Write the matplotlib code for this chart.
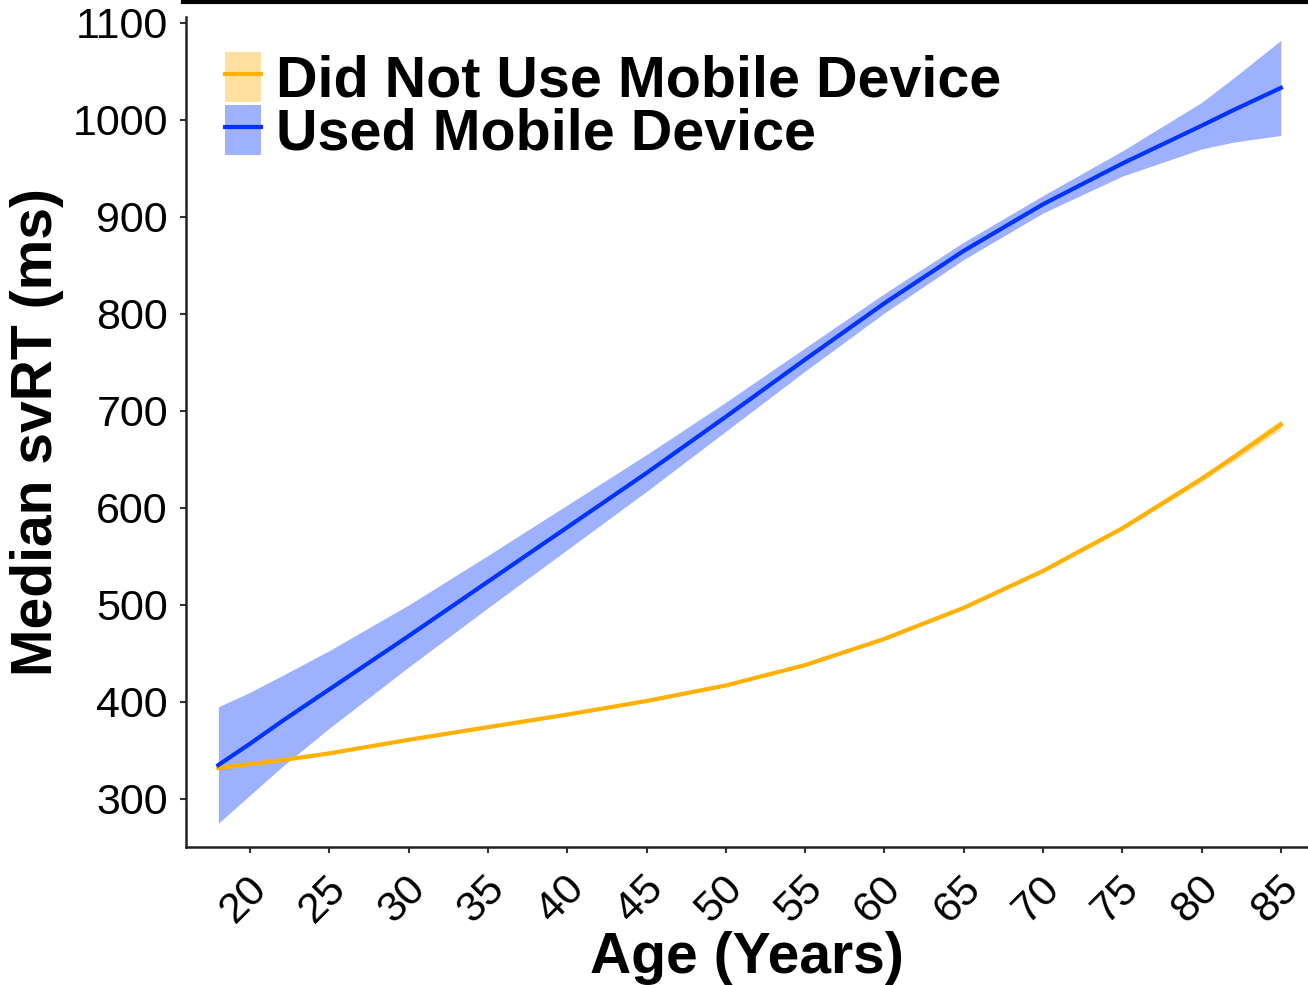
import matplotlib
matplotlib.use('Agg')
import numpy as np
import matplotlib.pyplot as plt
import matplotlib.transforms as mtransforms
from matplotlib.patches import Patch
from matplotlib.lines import Line2D

plt.rcParams['font.family'] = ['Liberation Sans', 'DejaVu Sans']

# values
ages = [18, 20, 22, 25, 30, 35, 40, 45, 50, 55, 60, 65, 70, 75, 80, 82, 85]
used_rt = [335, 357, 380, 413, 468, 524, 580, 636, 694, 753, 811, 865, 913, 955, 994, 1010, 1033]
used_se = [60, 53, 47, 40, 32, 27, 23, 19, 15, 12, 10, 9, 9, 13, 24, 33, 49]
notused_rt = [332, 336, 340, 347, 361, 374, 387, 401, 417, 438, 465, 497, 535, 579, 630, 652, 686]
notused_se = [2, 1.5, 1, 1, 1, 1, 1, 1, 1, 1, 1, 1, 1.5, 2, 3, 4, 5]

labels = ['Did Not Use Mobile Device', 'Used Mobile Device']
line_colors = ['#FFB000', '#0033FF']
x_ticks = list(range(20, 90, 5))
y_ticks = list(range(300, 1200, 100))

fig = plt.figure(figsize=(13.08, 9.85), dpi=100)
ax = fig.add_axes([0.1422, 0.1401, 0.8578, 0.8426])

ages_arr = np.array(ages)
series = [(notused_rt, notused_se), (used_rt, used_se)]
for (rt, se), col in zip(series, line_colors):
    rt = np.array(rt)
    se = np.array(se)
    ax.fill_between(ages_arr, rt - se, rt + se, color=col, alpha=0.38, lw=0)
    ax.plot(ages_arr, rt, color=col, lw=3)

ax.set_xlim(15.96, 86.71)
ax.set_ylim(250.5, 1106)
ax.set_xticks(x_ticks)
ax.set_yticks(y_ticks)
ax.tick_params(axis='both', labelsize=31, length=4.5, width=1.5, color='#333333')
ax.tick_params(axis='x', pad=11)
ax.tick_params(axis='y', pad=8.5)
shift = mtransforms.ScaledTranslation(-6 / 100, 0, fig.dpi_scale_trans)
for lab in ax.get_xticklabels():
    lab.set_rotation(45)
    lab.set_ha('center')
    lab.set_va('top')
    lab.set_transform(lab.get_transform() + shift)

for s in ['top', 'right']:
    ax.spines[s].set_visible(False)
for s in ['left', 'bottom']:
    ax.spines[s].set_linewidth(1.8)
    ax.spines[s].set_color('#222222')

ax.set_xlabel('Age (Years)', fontsize=41, fontweight='bold', labelpad=0)
ax.set_ylabel('Median svRT (ms)', fontsize=41, fontweight='bold', labelpad=6)

handles = []
for col in line_colors:
    handles.append((Patch(facecolor=col, alpha=0.38, lw=0), Line2D([], [], color=col, lw=3)))
leg = ax.legend(handles, labels, loc='upper left', bbox_to_anchor=(0.0348, 0.958),
                frameon=False, borderpad=0, borderaxespad=0, labelspacing=-0.06,
                handlelength=0.62, handleheight=0.96, handletextpad=0.26,
                prop={'size': 41.3, 'weight': 'bold'})

# black rule along the top edge of the image
fig.add_artist(Line2D([183 / 1308, 1], [0.998, 0.998], color='black', lw=3,
                      transform=fig.transFigure))

fig.savefig('out.png', dpi=100)
